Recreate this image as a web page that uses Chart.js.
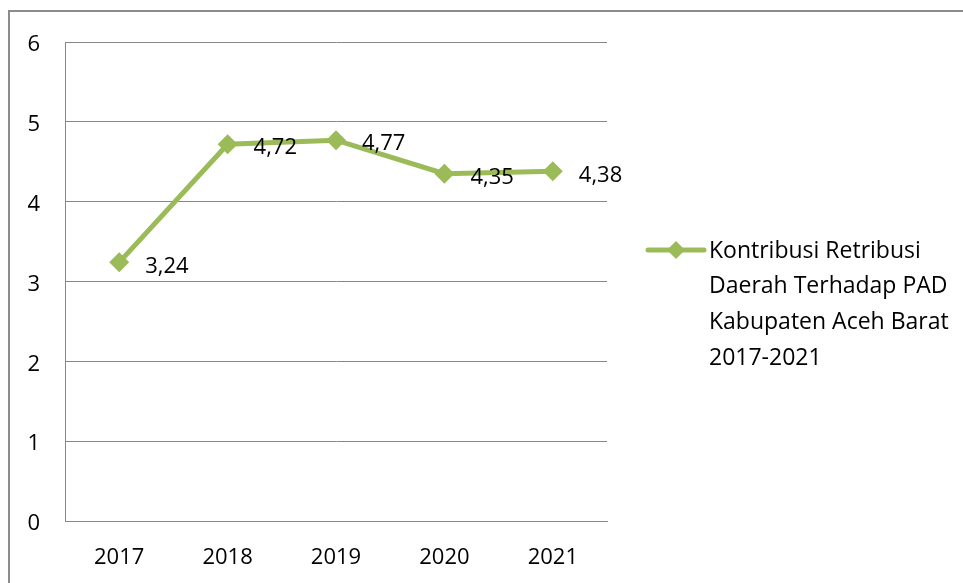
<!DOCTYPE html>
<html lang="id">
<head>
<meta charset="UTF-8">
<title>Kontribusi Retribusi Daerah</title>
<script src="https://cdn.jsdelivr.net/npm/chart.js@4.4.0/dist/chart.umd.min.js"></script>
<style>
    html, body { margin: 0; padding: 0; background: #fff; }
    .wrap { width: 963px; height: 583px; }
</style>
</head>
<body>
<div class="wrap">
    <canvas id="chart" width="963" height="583"></canvas>
</div>
<script>
// data
var years = ['2017', '2018', '2019', '2020', '2021'];
var kontribusi = [3.24, 4.72, 4.77, 4.35, 4.38];
var legendLines = ['Kontribusi Retribusi', 'Daerah Terhadap PAD', 'Kabupaten Aceh Barat', '2017-2021'];

var green = '#9bbb59';
var gray = '#878787';
var fontName = "'Open Sans', sans-serif";
var fontSize = 22;

// value labels to the right of each point, decimal comma
var valueLabels = {
    id: 'valueLabels',
    afterDatasetsDraw: function (chart) {
        var ctx = chart.ctx;
        var meta = chart.getDatasetMeta(0);
        ctx.save();
        ctx.font = fontSize + 'px ' + fontName;
        ctx.fillStyle = '#000';
        ctx.textAlign = 'left';
        ctx.textBaseline = 'middle';
        meta.data.forEach(function (pt, i) {
            var txt = kontribusi[i].toFixed(2).replace('.', ',');
            ctx.fillText(txt, pt.x + 26, pt.y + 4);
        });
        ctx.restore();
    }
};

// outer frame + legend on the right
var frameAndLegend = {
    id: 'frameAndLegend',
    afterDraw: function (chart) {
        var ctx = chart.ctx;
        ctx.save();
        ctx.strokeStyle = '#8c8c8c';
        ctx.lineWidth = 2;
        ctx.beginPath();
        ctx.moveTo(9, 583);
        ctx.lineTo(9, 11);
        ctx.lineTo(963, 11);
        ctx.stroke();

        // legend symbol
        var lx = 648, ly = 250;
        ctx.strokeStyle = green;
        ctx.lineWidth = 5;
        ctx.lineCap = 'round';
        ctx.beginPath();
        ctx.moveTo(lx, ly);
        ctx.lineTo(lx + 56, ly);
        ctx.stroke();
        ctx.fillStyle = green;
        ctx.beginPath();
        ctx.moveTo(lx + 28, ly - 9);
        ctx.lineTo(lx + 37, ly);
        ctx.lineTo(lx + 28, ly + 9);
        ctx.lineTo(lx + 19, ly);
        ctx.closePath();
        ctx.fill();

        ctx.font = '23px ' + fontName;
        ctx.fillStyle = '#000';
        ctx.textAlign = 'left';
        ctx.textBaseline = 'middle';
        legendLines.forEach(function (t, i) {
            ctx.fillText(t, 709, ly + 1 + i * 35.8);
        });
        ctx.restore();
    }
};

new Chart(document.getElementById('chart'), {
    type: 'line',
    data: {
        labels: years,
        datasets: [{
            label: legendLines.join(' '),
            data: kontribusi,
            borderColor: green,
            backgroundColor: green,
            borderWidth: 5,
            pointStyle: 'rectRot',
            pointRadius: 10,
            pointHoverRadius: 10,
            pointBorderWidth: 0,
            tension: 0,
            fill: false
        }]
    },
    options: {
        responsive: false,
        animation: false,
        events: [],
        layout: { padding: { left: 0, top: 42, right: 356, bottom: 0 } },
        plugins: {
            legend: { display: false },
            tooltip: { enabled: false }
        },
        scales: {
            x: {
                offset: true,
                grid: { display: false, drawTicks: false },
                border: { color: gray, width: 1 },
                ticks: {
                    color: '#000',
                    padding: 24,
                    font: { family: fontName, size: fontSize },
                    maxRotation: 0
                },
                afterFit: function (s) { s.height = 62; }
            },
            y: {
                min: 0,
                max: 6,
                grid: { color: gray, lineWidth: 1, drawTicks: false },
                border: { color: gray, width: 1 },
                ticks: {
                    stepSize: 1,
                    color: '#000',
                    padding: 25,
                    labelOffset: 3,
                    font: { family: fontName, size: fontSize }
                },
                afterFit: function (s) { s.width = 65; }
            }
        }
    },
    plugins: [valueLabels, frameAndLegend]
});
</script>
</body>
</html>
